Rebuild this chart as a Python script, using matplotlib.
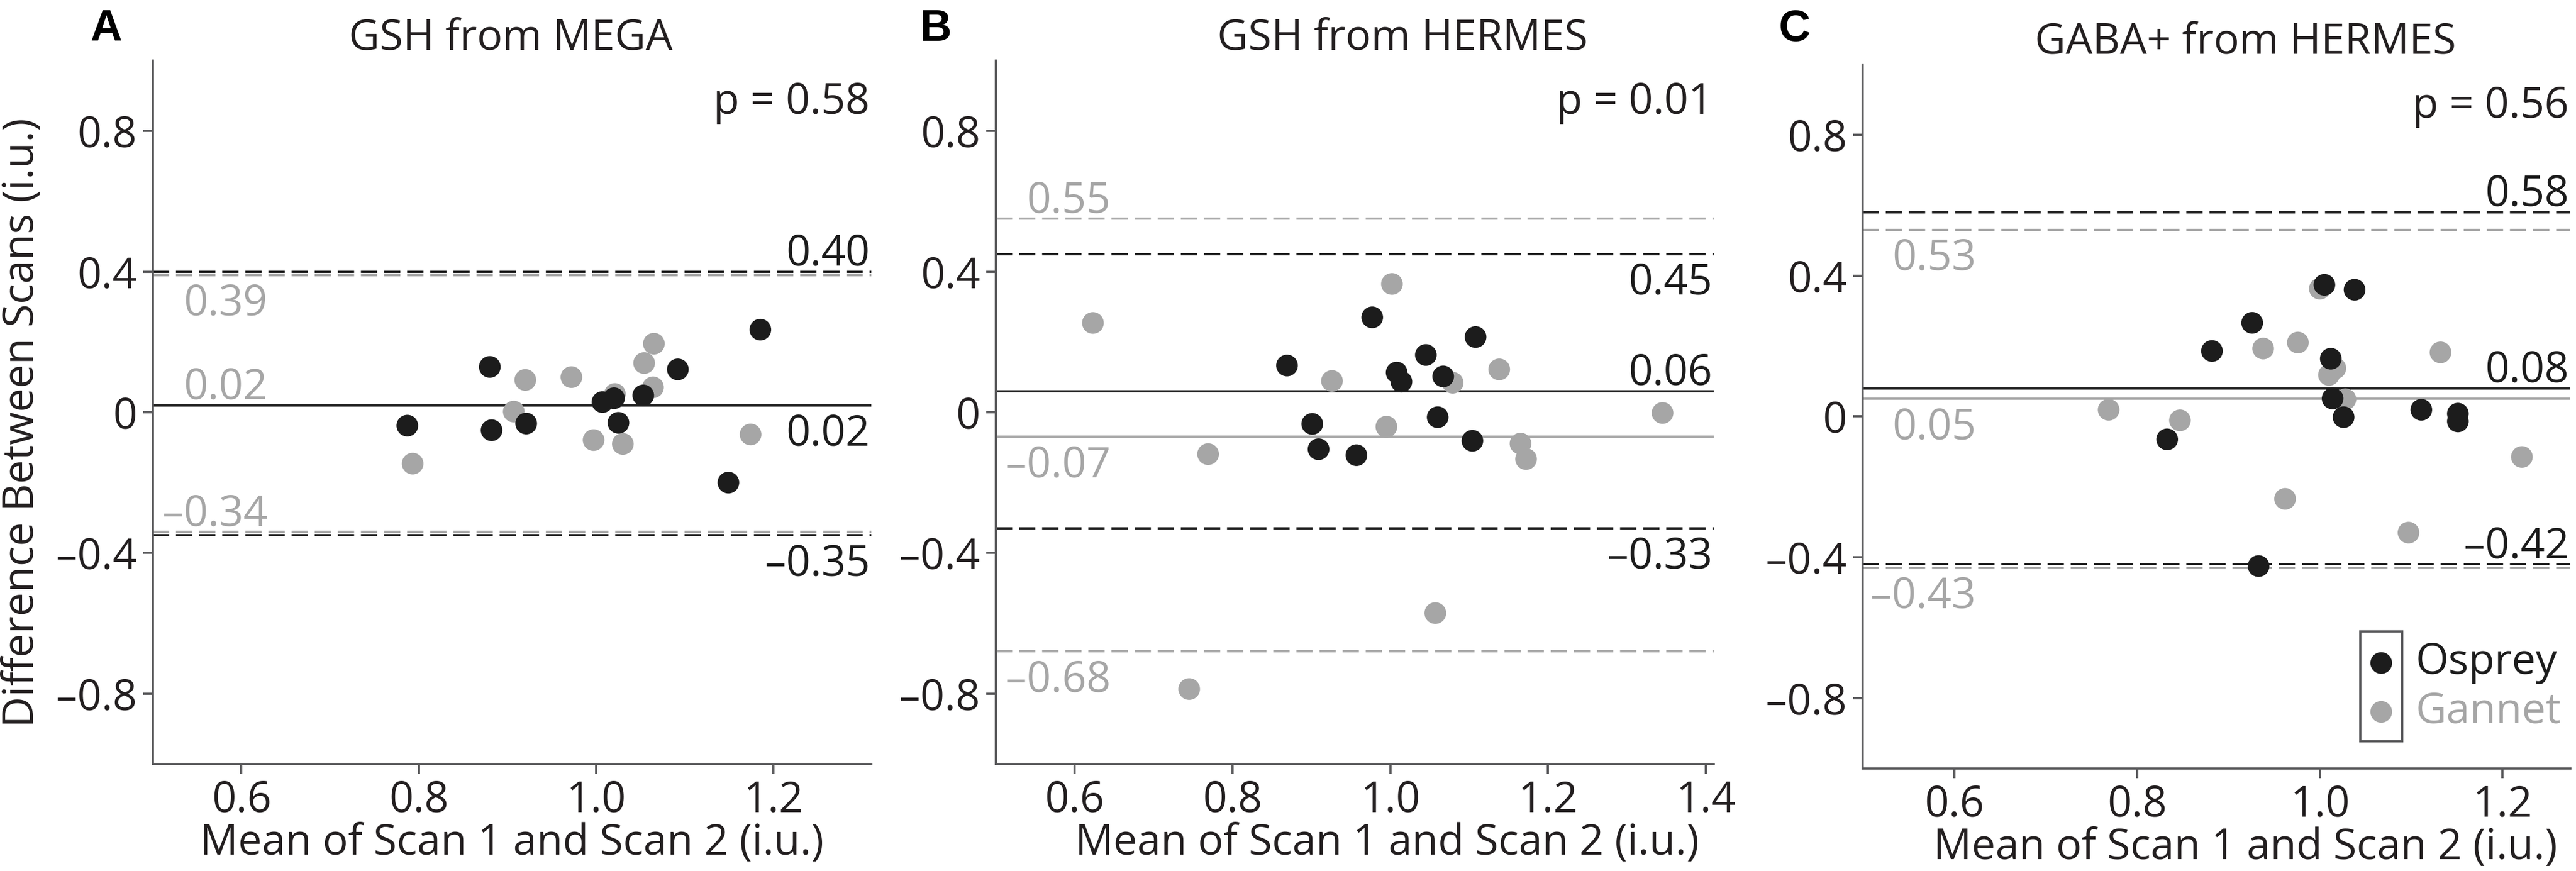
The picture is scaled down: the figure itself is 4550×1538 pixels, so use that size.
import numpy as np
import matplotlib
matplotlib.use('Agg')
import matplotlib.pyplot as plt
from matplotlib.patches import Rectangle
import matplotlib.transforms as mtransforms

plt.rcParams['font.family'] = ['Open Sans', 'DejaVu Sans']

BLACK = '#1c1c1c'
GRAY = '#a6a6a6'
SPINE = '#5a5a5c'
TXT = '#231f20'

# panel titles / p values
titles = ['GSH from MEGA', 'GSH from HERMES', 'GABA+ from HERMES']
letters = ['A', 'B', 'C']
p_text = ['p = 0.58', 'p = 0.01', 'p = 0.56']

# A: GSH from MEGA
osp_x_A = [0.787, 0.880, 0.882, 0.921, 1.007, 1.020, 1.025, 1.053, 1.092, 1.149, 1.185]
osp_y_A = [-0.038, 0.129, -0.051, -0.032, 0.029, 0.040, -0.030, 0.048, 0.122, -0.200, 0.235]
gan_x_A = [0.793, 0.920, 0.907, 0.972, 0.997, 1.021, 1.030, 1.054, 1.065, 1.064, 1.174]
gan_y_A = [-0.146, 0.092, 0.002, 0.100, -0.079, 0.052, -0.090, 0.140, 0.195, 0.071, -0.063]

# B: GSH from HERMES
osp_x_B = [0.869, 0.977, 1.108, 1.045, 1.008, 1.014, 1.067, 0.901, 0.909, 0.957, 1.060, 1.104]
osp_y_B = [0.133, 0.270, 0.214, 0.163, 0.113, 0.087, 0.102, -0.033, -0.105, -0.122, -0.014, -0.081]
gan_x_B = [0.623, 1.002, 0.926, 1.138, 1.079, 0.769, 0.995, 1.165, 1.172, 1.057, 0.745, 1.345]
gan_y_B = [0.254, 0.365, 0.089, 0.122, 0.084, -0.119, -0.041, -0.089, -0.133, -0.571, -0.787, -0.002]

# C: GABA+ from HERMES
osp_x_C = [0.882, 0.926, 1.005, 1.038, 1.012, 1.014, 1.026, 1.111, 1.151, 1.151, 0.833, 0.933]
osp_y_C = [0.186, 0.266, 0.374, 0.360, 0.164, 0.051, -0.002, 0.019, 0.008, -0.014, -0.065, -0.425]
gan_x_C = [0.769, 0.847, 0.938, 0.976, 1.000, 1.010, 1.017, 1.028, 1.132, 1.221, 0.962, 1.097]
gan_y_C = [0.019, -0.011, 0.193, 0.210, 0.363, 0.118, 0.137, 0.049, 0.182, -0.115, -0.234, -0.330]

# mean and limits of agreement (upper, mean, lower)
osp_lines = [[0.40, 0.02, -0.35], [0.45, 0.06, -0.33], [0.58, 0.08, -0.42]]
gan_lines = [[0.39, 0.02, -0.34], [0.55, -0.07, -0.68], [0.53, 0.05, -0.43]]

# where the number goes relative to its line
osp_side = [['above', 'below', 'below'], ['below', 'above', 'below'], ['above', 'above', 'above']]
gan_side = [['below', 'above', 'above'], ['above', 'below', 'below'], ['below', 'below', 'below']]

xticks = [[0.6, 0.8, 1.0, 1.2], [0.6, 0.8, 1.0, 1.2, 1.4], [0.6, 0.8, 1.0, 1.2]]
xlims = [(0.5, 1.31), (0.5, 1.41), (0.5, 1.274)]
yticks = [0.8, 0.4, 0, -0.4, -0.8]
ytick_labels = ['0.8', '0.4', '0', '–0.4', '–0.8']

data = [(osp_x_A, osp_y_A, gan_x_A, gan_y_A),
        (osp_x_B, osp_y_B, gan_x_B, gan_y_B),
        (osp_x_C, osp_y_C, gan_x_C, gan_y_C)]

fig = plt.figure(figsize=(22.75, 7.69), dpi=200)
boxes = [[0.0593, 0.1229, 0.2789, 0.8075],
         [0.3866, 0.1229, 0.2787, 0.8075],
         [0.7231, 0.1177, 0.2747, 0.8083]]
title_x = [0.498, 0.566, 0.541]
xlabel_x = [0.5, 0.545, 0.541]
letter_x = [0.0411, 0.3633, 0.6967]
FS = 27

def fmt(v):
    s = '%.2f' % abs(v)
    return ('–' + s) if v < 0 else s

dash = (0, (7.4, 3.1))
axes = []

for i in range(3):
    ax = fig.add_axes(boxes[i])
    axes.append(ax)
    ox, oy, gx, gy = data[i]

    # lines: gray first, black on top
    for v, ls in zip(gan_lines[i], ['dash', 'solid', 'dash']):
        ax.axhline(v, color=GRAY, lw=1.4, linestyle=dash if ls == 'dash' else '-', zorder=1)
    for v, ls in zip(osp_lines[i], ['dash', 'solid', 'dash']):
        ax.axhline(v, color=BLACK, lw=1.4, linestyle=dash if ls == 'dash' else '-', zorder=1.5)

    ax.scatter(gx, gy, s=190, color=GRAY, edgecolors='none', zorder=3, label='Gannet')
    ax.scatter(ox, oy, s=190, color=BLACK, edgecolors='none', zorder=4, label='Osprey')

    trans = mtransforms.blended_transform_factory(ax.transAxes, ax.transData)
    for v, side in zip(osp_lines[i], osp_side[i]):
        off = 4 if side == 'above' else -5
        ax.annotate(fmt(v), xy=(0.998, v), xycoords=trans, xytext=(0, off),
                    textcoords='offset points', ha='right',
                    va='baseline' if side == 'above' else 'top',
                    fontsize=FS, color=BLACK)
    for v, side in zip(gan_lines[i], gan_side[i]):
        off = 4 if side == 'above' else -5
        ax.annotate(fmt(v), xy=(0.16, v), xycoords=trans, xytext=(0, off),
                    textcoords='offset points', ha='right',
                    va='baseline' if side == 'above' else 'top',
                    fontsize=FS, color=GRAY)

    ax.text(0.998, 0.88, p_text[i], transform=trans, ha='right', va='center',
            fontsize=FS, color=TXT)

    ax.set_xlim(*xlims[i])
    ax.set_ylim(-1.0, 1.0)
    ax.set_xticks(xticks[i], ['%.1f' % t for t in xticks[i]])
    ax.set_yticks(yticks, ytick_labels)
    ax.tick_params(direction='out', length=6, width=1.4, color=SPINE,
                   labelsize=27, labelcolor=TXT, pad=4)
    for s in ['top', 'right']:
        ax.spines[s].set_visible(False)
    for s in ['left', 'bottom']:
        ax.spines[s].set_color(SPINE)
        ax.spines[s].set_linewidth(1.4)

    ax.set_title(titles[i], fontsize=FS, color=TXT, pad=7, x=title_x[i])
    ax.set_xlabel('Mean of Scan 1 and Scan 2 (i.u.)', fontsize=FS, color=TXT,
                  labelpad=0, x=xlabel_x[i])
    if i == 0:
        ax.set_ylabel('Difference Between Scans (i.u.)', fontsize=FS, color=TXT,
                      labelpad=8, y=0.485)

    fig.text(letter_x[i], 0.9532, letters[i], fontsize=28, fontweight='bold',
             family='Liberation Sans', ha='center', va='baseline', color='black')

ax = axes[2]
h, l = ax.get_legend_handles_labels()
HTP, HL = 0.3, 1.0
leg = ax.legend(h[::-1], l[::-1], loc='lower right', bbox_to_anchor=(1.0104, 0.026),
                frameon=False, fontsize=FS, handletextpad=HTP,
                labelspacing=0.15, borderaxespad=0, handlelength=HL)
for t, c in zip(leg.get_texts(), [BLACK, GRAY]):
    t.set_color(c)

# box around the legend markers only
fig.canvas.draw()
r = fig.canvas.get_renderer()
fs_px = FS * fig.dpi / 72
t0 = leg.get_texts()[0].get_window_extent(r)
t1 = leg.get_texts()[1].get_window_extent(r)
cx = t0.x0 - (HTP + HL / 2) * fs_px
cy0 = (t0.y0 + t0.y1) / 2
cy1 = (t1.y0 + t1.y1) / 2
inv = ax.transAxes.inverted()
(bx0, by0) = inv.transform((cx - 37, cy1 - 52))
(bx1, by1) = inv.transform((cx + 37, cy0 + 56))
ax.add_patch(Rectangle((bx0, by0), bx1 - bx0, by1 - by0, transform=ax.transAxes,
                       fill=False, edgecolor=SPINE, lw=1.4, zorder=5))

fig.savefig('out.png', dpi=200, facecolor='white')
